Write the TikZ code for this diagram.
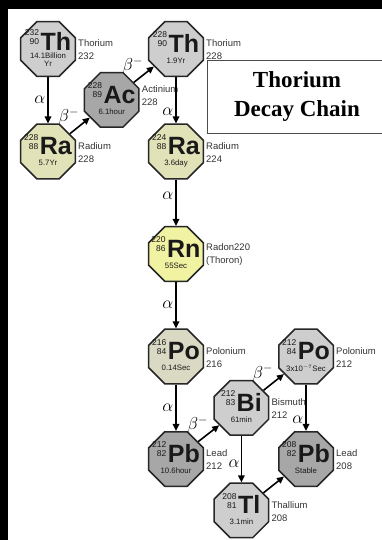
\documentclass[tikz,border=0pt]{standalone}
\usepackage{fontspec}
\setmainfont{Liberation Serif}
\setsansfont{Liberation Sans}
\usetikzlibrary{shapes.geometric,arrows.meta}
\definecolor{isolight}{HTML}{CECECE}
\definecolor{isodark}{HTML}{A7A7A7}
\definecolor{isora}{HTML}{E2E2B9}
\definecolor{isorn}{HTML}{F2F2A3}
\definecolor{isopo}{HTML}{D9D9C4}
\newcommand{\iso}[4]{\raisebox{-3pt}[0pt][0pt]{\makebox[0pt]{\sffamily\begin{tabular}{@{}c@{}}%
  \raisebox{5.5pt}{\fontsize{8.5}{7.5}\selectfont\shortstack[r]{#1\\#2}}\hspace{1.5pt}%
  {\fontsize{25}{25}\selectfont\bfseries #3}\\[-0.5pt]%
  {\fontsize{7.8}{8}\selectfont\begin{tabular}{@{}c@{}}#4\end{tabular}}%
  \end{tabular}}}}

\begin{document}
\begin{tikzpicture}[x=1pt, y=1pt, node distance=102.5pt,
    isobox/.style={regular polygon, regular polygon sides=8, draw=black!85,
      line width=1.5pt, minimum size=59pt, inner sep=0pt, text=black!90},
    sidetext/.style={anchor=west, xshift=2pt, yshift=-1pt, align=left, inner sep=0pt,
      font=\sffamily\fontsize{9.5}{13}\selectfont, text=black!80},
    decay/.style={line width=1.6pt, -{Triangle[length=7pt, width=6.5pt]}},
    ray/.style={font=\fontsize{18}{18}\selectfont, inner sep=2pt}]
\useasboundingbox (-48,-491) rectangle (334,49);
\fill[white] (-48,-491) rectangle (334,49);
\fill[black] (-48,40) rectangle (334,49);
\fill[black] (-48,-491) rectangle (-40,49);
\coordinate (edge) at (334,0);

\node[isobox, fill=isolight] (th232) at (0,0) {\iso{232}{90}{Th}{14.1Billion\\Yr}};
\node[isobox, fill=isora] (ra228) [below of=th232] {\iso{228}{88}{Ra}{5.7Yr}};
\node[isobox, fill=isolight] (th228) [node distance=128pt, right of=th232] {\iso{228}{90}{Th}{1.9Yr}};
\node[isobox, fill=isodark] (ac228) at ([shift=(39:82)] ra228) {\iso{228}{89}{Ac}{6.1hour}};
\node[isobox, fill=isora] (ra224) [below of=th228] {\iso{224}{88}{Ra}{3.6day}};
\node[isobox, fill=isorn] (rn220) [below of=ra224] {\iso{220}{86}{Rn}{55Sec}};
\node[isobox, fill=isopo] (po216) [below of=rn220] {\iso{216}{84}{Po}{0.14Sec}};
\node[isobox, fill=isodark] (pb212) [below of=po216] {\iso{212}{82}{Pb}{10.6hour}};
\node[isobox, fill=isolight] (po212) [node distance=130pt, right of=po216] {\iso{212}{84}{Po}{3x10$^{\scriptscriptstyle -7}$Sec}};
\node[isobox, fill=isodark] (pb208) [below of=po212] {\iso{208}{82}{Pb}{Stable}};
\node[isobox, fill=isolight] (bi212) at ([shift=(38:83)] pb212) {\iso{212}{83}{Bi}{61min}};
\node[isobox, fill=isolight] (tl208) [below of=bi212] {\iso{208}{81}{Tl}{3.1min}};

\node[sidetext] (th232-txt) at (th232.east) {Thorium\\232};
\node[sidetext] (ra228-txt) at (ra228.east) {Radium\\228};
\node[sidetext, yshift=5pt] (ac228-txt) at (ac228.east) {Actinium\\228};
\node[sidetext] (th228-txt) at (th228.east) {Thorium\\228};
\node[sidetext] (ra224-txt) at (ra224.east) {Radium\\224};
\node[sidetext] (rn220-txt) at (rn220.east) {Radon220\\(Thoron)};
\node[sidetext] (po216-txt) at (po216.east) {Polonium\\216};
\node[sidetext] (pb212-txt) at (pb212.east) {Lead\\212};
\node[sidetext] (po212-txt) at (po212.east) {Polonium\\212};
\node[sidetext] (bi212-txt) at (bi212.east) {Bismuth\\212};
\node[sidetext] (pb208-txt) at (pb208.east) {Lead\\208};
\node[sidetext] (tl208-txt) at (tl208.east) {Thallium\\208};

\node[overlay, minimum width=178pt, minimum height=72pt, align=center,
  font=\fontsize{23}{29}\selectfont\bfseries] (title) at (249,-48) {Thorium\\Decay Chain};
\draw[black!70, line width=0.8pt] (title.north -| edge) -- (title.north west)
  -- (title.south west) -- (title.south -| edge);

\draw[decay] (th232) -- (ra228) node[ray, midway, left] (r1) {$\alpha$};
\draw[decay] (ra228) -- (ac228) node[ray, midway, above left, inner sep=0pt] (r2) {$\beta^-$};
\draw[decay] (ac228) -- (th228) node[ray, midway, above left, inner sep=0pt] (r3) {$\beta^-$};
\draw[decay] (th228) -- (ra224) node[ray, pos=0.75, left] (r4) {$\alpha$};
\draw[decay] (ra224) -- (rn220) node[ray, pos=0.35, left] (r5) {$\alpha$};
\draw[decay] (rn220) -- (po216) node[ray, midway, left] (r6) {$\alpha$};
\draw[decay] (po216) -- (pb212) node[ray, midway, left] (r7) {$\alpha$};
\draw[decay] (pb212) -- (bi212) node[ray, midway, above left, inner sep=0pt] (r8) {$\beta^-$};
\draw[decay] (bi212) -- (po212) node[ray, midway, above left, inner sep=0pt] (r9) {$\beta^-$};
\draw[decay] (bi212) -- (tl208) node[ray, pos=0.6, left, inner sep=1pt] (r10) {$\alpha$};
\draw[decay] (po212) -- (pb208) node[ray, pos=0.75, left] (r11) {$\alpha$};
\draw[decay] (tl208) -- (pb208);
\end{tikzpicture}
\end{document}
